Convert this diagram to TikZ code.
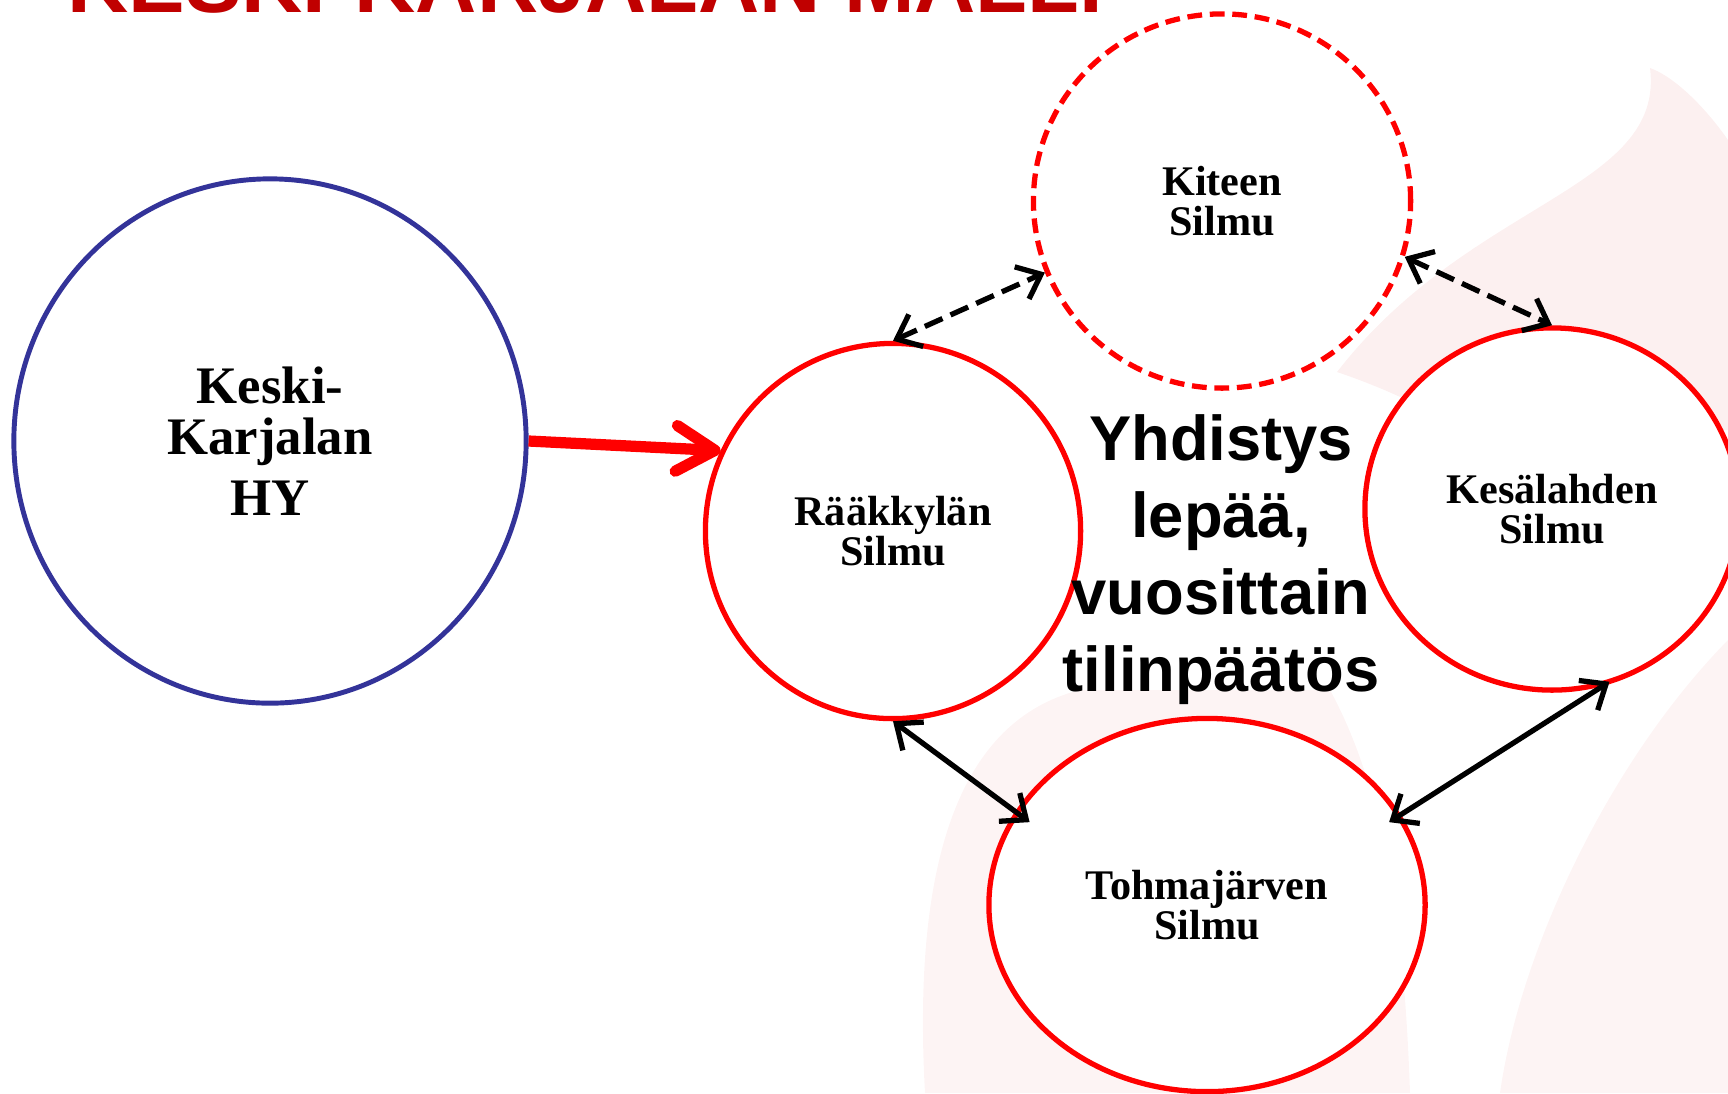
\documentclass[tikz,border=0pt]{standalone}
\usepackage{fontspec}
\setmainfont{Liberation Serif}
\setsansfont{Liberation Sans}
\usepackage{tikz}
\usetikzlibrary{arrows.meta,positioning,shapes.geometric}
\definecolor{redi}{RGB}{255,0,0}
\definecolor{bluei}{RGB}{51,51,153}
\definecolor{titlered}{RGB}{192,0,0}
\definecolor{flame}{RGB}{252,240,240}
\definecolor{flamei}{RGB}{253,244,244}
\tikzset{>={Straight Barb[length=6pt,width=10pt]},
          silmu/.style={
            ellipse,draw=redi,line width=1.5pt,fill=white,
            inner sep=0pt,align=center,
            font=\fontsize{12}{11.4}\selectfont\bfseries
          },
          hyring/.style={silmu,draw=bluei,line width=1.4pt,
            font=\fontsize{15}{14.6}\selectfont\bfseries},
          texto/.style={font=\fontsize{18}{21.9}\selectfont\sffamily\bfseries,align=center},
          title/.style={font=\fontsize{24.1}{29}\selectfont\sffamily\bfseries,text=titlered},
          link/.style={<->,line width=1.5pt},
          dlink/.style={link,dash pattern=on 5.5pt off 2.5pt},
          redarrow/.style={draw=redi,line width=3.2pt,
            -{Straight Barb[length=11pt,width=13pt,round]}}
        }
\newcommand\Silmu[5]{%
          \node[silmu,minimum width=#3,minimum height=#4] (#1) at (#2) {#5};
        }

\begin{document}
\begin{tikzpicture}[x=0.01cm,y=-0.01cm]
            \clip (0,0) rectangle (1728,1093);
            \fill[flame] (1650,68) .. controls (1665,190) and (1470,200) .. (1337,372)
              .. controls (1390,390) and (1430,410) .. (1460,430) -- (1728,430) -- (1728,140)
              .. controls (1700,100) and (1670,75) .. (1650,68) -- cycle;
            \fill[flamei] (1728,640) .. controls (1610,760) and (1520,950) .. (1500,1093)
              -- (1728,1093) -- cycle;
            \fill[flamei] (925,1093) .. controls (912,860) and (960,720) .. (1080,690)
              -- (1330,690) .. controls (1390,800) and (1405,950) .. (1410,1093) -- cycle;

            \node[title,anchor=base west] (otsikko) at (55,12) {KESKI-KARJALAN MALLI};

            \node[hyring,minimum width=5.12cm,minimum height=5.24cm] (hy) at (270,441)
              {Keski-\\Karjalan\\[2.5pt]HY};
            \Silmu{raak}{893,531}{3.75cm}{3.75cm}{Rääkkylän\\Silmu}
            \Silmu{kesa}{1552,509}{3.74cm}{3.62cm}{Kesälahden\\Silmu}
            \Silmu{tohm}{1207,905}{4.36cm}{3.73cm}{Tohmajärven\\Silmu}
            \node[silmu,dash pattern=on 4.2pt off 2.2pt,minimum width=3.77cm,
              minimum height=3.74cm] (kite) at (1222,201) {Kiteen\\Silmu};

            \node[texto] (yhd) at (1221,560) {Yhdistys\\lepää,\\vuosittain\\tilinpäätös};

            \draw[redarrow] (hy.east) -- (raak.155);
            \draw[dlink] (raak.90) -- (kite.202);
            \draw[dlink] (kite.343) -- (kesa.90);
            \draw[link,shorten >=-0.18cm] (raak.270) -- (tohm.154);
            \draw[link,shorten <=-0.14cm,shorten >=-0.08cm] (tohm.25) -- (kesa.286);
          \end{tikzpicture}
\end{document}
